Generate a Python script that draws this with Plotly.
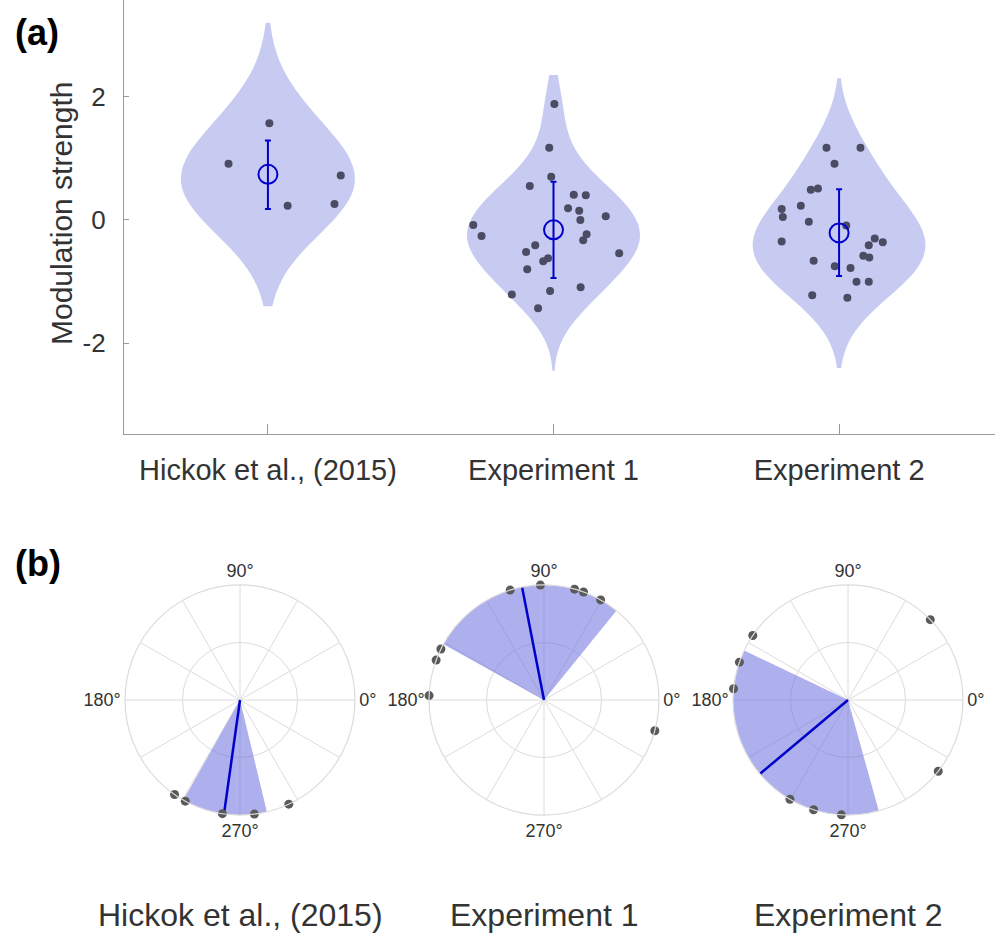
import numpy as np
import plotly.graph_objects as go

# ---------------- data ----------------
categories = ["Hickok et al., (2015)", "Experiment 1", "Experiment 2"]

hickok_vals = [1.57, 0.91, 0.72, 0.23, 0.26]
hickok_jit = [0.005, -0.138, 0.255, 0.069, 0.233]

exp1_vals = [1.88, 1.17, 0.70, 0.55, 0.41, 0.40, 0.19, 0.15, 0.06, 0.00, -0.08, -0.26,
             -0.23, -0.33, -0.41, -0.52, -0.54, -0.62, -0.67, -0.80, -1.21, -1.15, -1.09, -1.43]
exp1_jit = [0.003, -0.015, -0.008, -0.083, 0.071, 0.113, 0.051, 0.090, 0.183, 0.094, -0.281, -0.252,
            0.116, 0.104, -0.064, -0.096, 0.230, -0.019, -0.036, -0.092, -0.146, -0.012, 0.095, -0.054]

exp2_vals = [1.17, 1.17, 0.91, 0.49, 0.51, 0.18, 0.23, 0.05, -0.03, -0.09, -0.35, -0.30,
             -0.36, -0.41, -0.58, -0.61, -0.66, -0.75, -0.78, -1.00, -1.00, -1.22, -1.26]
exp2_jit = [-0.044, 0.075, -0.016, -0.099, -0.074, -0.201, -0.134, -0.197, -0.106, 0.025, -0.201, 0.125,
            0.153, 0.104, 0.085, 0.106, -0.089, -0.015, 0.040, 0.061, 0.104, -0.094, 0.029]

group_means = [0.74, -0.16, -0.21]
group_upper = [1.29, 0.62, 0.50]
group_lower = [0.18, -0.94, -0.91]

violin_bw = [0.75, 0.46, 0.55]
violin_span = [[-1.4, 3.2], [-2.45, 2.35], [-2.4, 2.3]]

# polar data (phase angles in degrees)
hickok_phase = [235.3, 241.6, 261.2, 277.2, 295.1]
exp1_phase = [107.1, 91.8, 74.6, 69.9, 60.5, 153.7, 159.7, 177.8, 344.5]
exp2_phase = [44.3, 145.9, 160.8, 174.4, 239.7, 252.6, 266.7, 321.7]
phase_mean = [262.0, 101.0, 220.0]
phase_ci = [21.5, 50.0, 65.5]

angle_ticks = list(range(0, 360, 30))
angle_labels = ["0°" if a == 0 else "90°" if a == 90 else "180°" if a == 180 else "270°" if a == 270 else "" for a in angle_ticks]

# ---------------- styles ----------------
FONT = "Liberation Sans, Arial, sans-serif"
TXT = "#333333"
VIOLIN_FILL = "rgb(200,203,241)"
DOT = "#4b4b63"
BLUE = "#0000cc"
AXIS = "#9a9a9a"
GRID = "#dcdcdc"

fig = go.Figure()

all_vals = [hickok_vals, exp1_vals, exp2_vals]
all_jit = [hickok_jit, exp1_jit, exp2_jit]

for i, vals in enumerate(all_vals):
    fig.add_trace(go.Violin(
        x=[i + 1] * len(vals), y=vals,
        points=False, box_visible=False, meanline_visible=False,
        bandwidth=violin_bw[i], spanmode="manual", span=violin_span[i],
        width=0.605, scalemode="width",
        fillcolor=VIOLIN_FILL, line=dict(color=VIOLIN_FILL, width=0),
        opacity=1, showlegend=False, hoverinfo="skip",
        xaxis="x", yaxis="y",
    ))

for i, vals in enumerate(all_vals):
    fig.add_trace(go.Scatter(
        x=[i + 1 + j for j in all_jit[i]], y=vals, mode="markers",
        marker=dict(size=8, color=DOT), showlegend=False, hoverinfo="skip",
        xaxis="x", yaxis="y",
    ))

fig.add_trace(go.Scatter(
    x=[1, 2, 3], y=group_means, mode="markers",
    marker=dict(symbol="circle-open", size=19, color=BLUE, line=dict(width=2, color=BLUE)),
    error_y=dict(type="data", symmetric=False,
                 array=[u - m for u, m in zip(group_upper, group_means)],
                 arrayminus=[m - l for m, l in zip(group_means, group_lower)],
                 color=BLUE, thickness=2, width=3),
    showlegend=False, hoverinfo="skip", xaxis="x", yaxis="y",
))

# ---------------- polar panels ----------------
phases = [hickok_phase, exp1_phase, exp2_phase]
polar_names = ["polar", "polar2", "polar3"]
centers_x = [240, 544, 848]
center_y = 700
R = 115

for i in range(3):
    sub = polar_names[i]
    fig.add_trace(go.Barpolar(
        r=[1], theta=[phase_mean[i]], width=[2 * phase_ci[i]],
        marker=dict(color="rgba(105,112,220,0.55)", line=dict(width=0)),
        showlegend=False, hoverinfo="skip", subplot=sub,
    ))
    fig.add_trace(go.Scatterpolar(
        r=[0, 1], theta=[phase_mean[i], phase_mean[i]], mode="lines",
        line=dict(color=BLUE, width=2.5), showlegend=False, hoverinfo="skip", subplot=sub,
    ))
    fig.add_trace(go.Scatterpolar(
        r=[1] * len(phases[i]), theta=phases[i], mode="markers",
        marker=dict(size=9, color="#5a5a5a"), cliponaxis=False,
        showlegend=False, hoverinfo="skip", subplot=sub,
    ))

W, H = 1000, 940
polar_layouts = {}
for i in range(3):
    cx = centers_x[i]
    polar_layouts[polar_names[i]] = dict(
        domain=dict(x=[(cx - R) / W, (cx + R) / W], y=[(H - center_y - R) / H, (H - center_y + R) / H]),
        bgcolor="white",
        radialaxis=dict(range=[0, 1], tickvals=[0.5], showticklabels=False, ticks="",
                        showline=False, gridcolor=GRID, gridwidth=1),
        angularaxis=dict(tickvals=angle_ticks, ticktext=angle_labels, ticks="",
                         direction="counterclockwise", rotation=0,
                         showline=True, linecolor=GRID, linewidth=1.2,
                         gridcolor=GRID, gridwidth=1,
                         tickfont=dict(size=18, color=TXT, family=FONT)),
        barmode="overlay",
    )

annotations = [
    dict(text="<b>(a)</b>", x=0.013, y=1 - 32 / H, xref="paper", yref="paper",
         xanchor="left", yanchor="middle", showarrow=False,
         font=dict(size=36, color="black", family=FONT)),
    dict(text="<b>(b)</b>", x=0.013, y=1 - 563 / H, xref="paper", yref="paper",
         xanchor="left", yanchor="middle", showarrow=False,
         font=dict(size=36, color="black", family=FONT)),
    dict(text="Modulation strength", x=61 / W, y=1 - 213 / H, xref="paper", yref="paper",
         xanchor="center", yanchor="middle", textangle=-90, showarrow=False,
         font=dict(size=30, color=TXT, family=FONT)),
]
for i in range(3):
    annotations.append(dict(text=categories[i], x=centers_x[i] / W, y=1 - 915 / H,
                            xref="paper", yref="paper", xanchor="center", yanchor="middle",
                            showarrow=False, font=dict(size=32, color=TXT, family=FONT)))

fig.update_layout(
    width=W, height=H,
    margin=dict(l=0, r=0, t=0, b=0),
    paper_bgcolor="white", plot_bgcolor="white",
    violinmode="overlay",
    font=dict(family=FONT, color=TXT),
    xaxis=dict(domain=[124 / W, 995 / W], range=[0.496, 3.546],
               tickvals=[1, 2, 3], ticktext=categories,
               ticks="inside", ticklen=10, tickcolor=AXIS, tickwidth=1,
               showline=True, linecolor=AXIS, linewidth=1.2,
               showgrid=False, zeroline=False,
               tickfont=dict(size=29, color=TXT, family=FONT), ticklabelstandoff=10),
    yaxis=dict(domain=[1 - 434 / H, 1], range=[-3.47, 3.567],
               tickvals=[-2, 0, 2], ticktext=["-2", "0", "2"],
               ticks="inside", ticklen=5, tickcolor=AXIS, tickwidth=1,
               showline=True, linecolor=AXIS, linewidth=1.2,
               showgrid=False, zeroline=False,
               tickfont=dict(size=26, color=TXT, family=FONT), ticklabelstandoff=12),
    annotations=annotations,
    **polar_layouts,
)

fig.write_html("out.html")
